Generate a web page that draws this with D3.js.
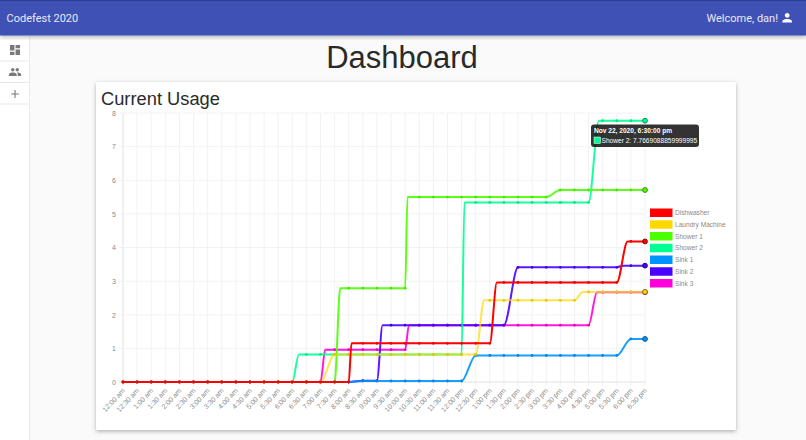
<!DOCTYPE html>
<html>
<head>
<meta charset="utf-8">
<title>Codefest 2020</title>
<script src="https://cdn.jsdelivr.net/npm/d3@7/dist/d3.min.js"></script>
<style>
  html, body { margin: 0; padding: 0; background: #fafafa; overflow: hidden; }
  svg { display: block; font-family: "Liberation Sans", Arial, sans-serif; }
  .axis text { font-size: 7px; fill: #8a8a8a; font-family: "Liberation Sans", Arial, sans-serif; }
  .axis path, .axis line { display: none; }
</style>
</head>
<body>
<svg id="page" width="806" height="440"></svg>
<script>
// one label every half hour
var timeLabels = ["12:00 am","12:30 am","1:00 am","1:30 am","2:00 am","2:30 am","3:00 am","3:30 am","4:00 am","4:30 am","5:00 am","5:30 am","6:00 am","6:30 am","7:00 am","7:30 am","8:00 am","8:30 am","9:00 am","9:30 am","10:00 am","10:30 am","11:00 am","11:30 am","12:00 pm","12:30 pm","1:00 pm","1:30 pm","2:00 pm","2:30 pm","3:00 pm","3:30 pm","4:00 pm","4:30 pm","5:00 pm","5:30 pm","6:00 pm","6:30 pm"];
var yTicks = [0,1,2,3,4,5,6,7,8];

var names = ["Dishwasher","Laundry Machine","Shower 1","Shower 2","Sink 1","Sink 2","Sink 3"];
var colors = ["#ff0000","#ffd800","#4cff00","#00ff92","#0092ff","#4900ff","#ff00db"];

// reading at each half hour tick
var dishwasher = [0,0,0,0,0,0,0,0,0,0,0,0,0,0,0,0,0,1.15,1.15,1.15,1.15,1.15,1.15,1.15,1.15,1.15,1.15,2.96,2.96,2.96,2.96,2.96,2.96,2.96,2.96,2.96,4.18,4.18];
var laundry = [0,0,0,0,0,0,0,0,0,0,0,0,0,0,0,0.82,0.82,0.82,0.82,0.82,0.82,0.82,0.82,0.82,0.82,0.82,2.43,2.43,2.43,2.43,2.43,2.43,2.43,2.68,2.68,2.68,2.68,2.68];
var shower1 = [0,0,0,0,0,0,0,0,0,0,0,0,0,0,0,0,2.79,2.79,2.79,2.79,2.79,5.5,5.5,5.5,5.5,5.5,5.5,5.5,5.5,5.5,5.5,5.71,5.71,5.71,5.71,5.71,5.71,5.71];
var shower2 = [0,0,0,0,0,0,0,0,0,0,0,0,0,0.82,0.82,0.82,0.82,0.82,0.82,0.82,0.82,0.82,0.82,0.82,0.82,5.34,5.34,5.34,5.34,5.34,5.34,5.34,5.34,5.34,7.77,7.77,7.77,7.77];
var sink1 = [0,0,0,0,0,0,0,0,0,0,0,0,0,0,0,0,0,0.03,0.03,0.03,0.03,0.03,0.03,0.03,0.03,0.79,0.79,0.79,0.79,0.79,0.79,0.79,0.79,0.79,0.79,0.79,1.28,1.28];
var sink2 = [0,0,0,0,0,0,0,0,0,0,0,0,0,0,0,0,0,0.04,0.04,1.69,1.69,1.69,1.69,1.69,1.69,1.69,1.69,1.69,3.41,3.41,3.41,3.41,3.41,3.41,3.41,3.41,3.46,3.46];
var sink3 = [0,0,0,0,0,0,0,0,0,0,0,0,0,0,0,0.96,0.96,0.96,0.96,0.96,0.96,1.69,1.69,1.69,1.69,1.69,1.69,1.69,1.69,1.69,1.69,1.69,1.69,1.69,2.67,2.67,2.67,2.67];
var seriesValues = [dishwasher, laundry, shower1, shower2, sink1, sink2, sink3];

// readings that came in between ticks: [minutes, value]
var dishwasherExtra = [[480,0],[486,1.15],[780,1.15],[795,2.96],[1050,2.96],[1073,4.18]];
var laundryExtra = [[750,0.82],[768,2.43],[960,2.43],[978,2.68]];
var shower1Extra = [[450,0],[462,2.79],[600,2.79],[605,5.5],[900,5.5]];
var shower2Extra = [[360,0],[374,0.82],[720,0.82],[726,5.34],[990,5.34],[1012,7.77]];
var sink1Extra = [[720,0.03],[1050,0.79]];
var sink2Extra = [[540,0.04],[552,1.69],[810,1.69],[1050,3.41],[1062,3.46]];
var sink3Extra = [[420,0],[430,0.96],[600,0.96],[608,1.69],[990,1.69],[1008,2.67]];
var seriesExtras = [dishwasherExtra, laundryExtra, shower1Extra, shower2Extra, sink1Extra, sink2Extra, sink3Extra];

var tickMinutes = timeLabels.map(function(d, i) { return i * 30; });

var svg = d3.select("#page");

// shadows for the bar and the card
var defs = svg.append("defs");
var shadow = defs.append("filter").attr("id", "shadow").attr("x", "-5%").attr("y", "-5%").attr("width", "110%").attr("height", "115%");
shadow.append("feDropShadow").attr("dx", 0).attr("dy", 1.5).attr("stdDeviation", 2).attr("flood-color", "#000").attr("flood-opacity", 0.3);

// sidebar
svg.append("rect").attr("x", 0).attr("y", 36).attr("width", 29).attr("height", 404).attr("fill", "#fff");
svg.append("line").attr("x1", 29.5).attr("x2", 29.5).attr("y1", 36).attr("y2", 440).attr("stroke", "#ececec");
[61, 82.5, 104].forEach(function(y) {
  svg.append("line").attr("x1", 0).attr("x2", 29).attr("y1", y).attr("y2", y).attr("stroke", "#e8e8e8");
});
var sideIcons = [
  { y: 50, path: "M3 13h8V3H3v10zm0 8h8v-6H3v6zm10 0h8V11h-8v10zm0-18v6h8V3h-8z" },
  { y: 72, path: "M16 11c1.66 0 2.99-1.34 2.99-3S17.66 5 16 5c-1.66 0-3 1.34-3 3s1.34 3 3 3zm-8 0c1.66 0 2.99-1.34 2.99-3S9.66 5 8 5C6.34 5 5 6.34 5 8s1.34 3 3 3zm0 2c-2.33 0-7 1.17-7 3.5V19h14v-2.5c0-2.33-4.67-3.5-7-3.5zm8 0c-.29 0-.62.02-.97.05 1.16.84 1.97 1.97 1.97 3.45V19h6v-2.5c0-2.33-4.67-3.5-7-3.5z" },
  { y: 94, path: "M19 13h-6v6h-2v-6H5v-2h6V5h2v6h6v2z" }
];
sideIcons.forEach(function(icon) {
  svg.append("path").attr("d", icon.path).attr("fill", "#7a7a7a")
    .attr("transform", "translate(" + (15 - 6.7) + "," + (icon.y - 6.7) + ") scale(0.56)");
});

// app bar
svg.append("rect").attr("x", 0).attr("y", 0).attr("width", 806).attr("height", 35.5).attr("fill", "#3f51b5").attr("filter", "url(#shadow)");
svg.append("rect").attr("x", 0).attr("y", 0).attr("width", 806).attr("height", 1).attr("fill", "#2f3d90");
svg.append("text").attr("x", 6.5).attr("y", 21.5).attr("font-size", 11).attr("font-family", "Roboto").attr("fill", "#e8eaf6").text("Codefest 2020");
svg.append("text").attr("x", 778).attr("y", 21.5).attr("text-anchor", "end").attr("font-size", 11).attr("font-family", "Roboto").attr("fill", "#e8eaf6").text("Welcome, dan!");
svg.append("path").attr("d", "M12 12c2.21 0 4-1.79 4-4s-1.79-4-4-4-4 1.79-4 4 1.79 4 4 4zm0 2c-2.67 0-8 1.34-8 4v2h16v-2c0-2.66-5.33-4-8-4z")
  .attr("fill", "#fff").attr("transform", "translate(780,10.5) scale(0.6)");

svg.append("text").attr("x", 402).attr("y", 68).attr("text-anchor", "middle").attr("font-size", 31).attr("fill", "#2a2a2a").text("Dashboard");

// card
svg.append("rect").attr("x", 96).attr("y", 82).attr("width", 640).attr("height", 348).attr("rx", 2).attr("fill", "#fff").attr("filter", "url(#shadow)");
svg.append("text").attr("x", 101).attr("y", 104.5).attr("font-size", 18.3).attr("fill", "#2a2a2a").text("Current Usage");

// scales
var x = d3.scaleLinear().domain([0, 1110]).range([123, 645]);
var y = d3.scaleLinear().domain([0, 8]).range([382, 113]);

// grid
svg.append("g").selectAll("line").data(tickMinutes).enter().append("line")
  .attr("x1", function(d) { return x(d); }).attr("x2", function(d) { return x(d); })
  .attr("y1", y(8)).attr("y2", y(0) + 4)
  .attr("stroke", function(d) { return d === 0 ? "#dcdcdc" : "#f0f0f0"; }).attr("stroke-width", 0.9);
svg.append("g").selectAll("line").data(yTicks).enter().append("line")
  .attr("x1", x(0) - 4).attr("x2", x(1110))
  .attr("y1", function(d) { return y(d); }).attr("y2", function(d) { return y(d); })
  .attr("stroke", function(d) { return d === 0 ? "#dcdcdc" : "#f0f0f0"; }).attr("stroke-width", 0.9);

// axes
svg.append("g").attr("class", "axis")
  .attr("transform", "translate(" + (x(0) - 5) + ",0)")
  .call(d3.axisLeft(y).tickValues(yTicks).tickSize(0).tickPadding(2).tickFormat(d3.format("d")));
var xAxis = svg.append("g").attr("class", "axis")
  .attr("transform", "translate(0," + (y(0) + 6) + ")")
  .call(d3.axisBottom(x).tickValues(tickMinutes).tickSize(0).tickFormat(function(d, i) { return timeLabels[i]; }));
xAxis.selectAll("text")
  .attr("text-anchor", "end").attr("dy", "0.35em").attr("y", 0).attr("x", 0)
  .attr("transform", "rotate(-47) translate(-1,1)");

// lines, first series goes on top
var line = d3.line()
  .x(function(d) { return x(d[0]); })
  .y(function(d) { return y(d[1]); })
  .curve(d3.curveMonotoneX);

d3.range(names.length).reverse().forEach(function(s) {
  var ticks = seriesValues[s].map(function(v, i) { return [tickMinutes[i], v]; });
  var pts = ticks.concat(seriesExtras[s]).sort(function(a, b) { return a[0] - b[0]; });
  var g = svg.append("g");
  // the yellow lets the line below show through
  g.append("path").attr("d", line(pts)).attr("fill", "none").attr("stroke", colors[s]).attr("stroke-width", 2)
    .attr("stroke-opacity", s === 0 ? 1 : s === 1 ? 0.7 : 0.9);
  g.selectAll("circle").data(ticks.slice(0, -1)).enter().append("circle")
    .attr("cx", function(d) { return x(d[0]); }).attr("cy", function(d) { return y(d[1]); })
    .attr("r", 1.4).attr("fill", d3.color(colors[s]).darker(0.25));
  // hovered point at the right end
  var end = ticks[ticks.length - 1];
  g.append("circle").attr("cx", x(end[0])).attr("cy", y(end[1])).attr("r", 2.4)
    .attr("fill", colors[s]).attr("stroke", d3.color(colors[s]).darker(1.6)).attr("stroke-width", 1);
});

// legend
var legend = svg.append("g").selectAll("g").data(names).enter().append("g")
  .attr("transform", function(d, i) { return "translate(650," + (208.5 + i * 11.75) + ")"; });
legend.append("rect").attr("width", 22.5).attr("height", 8.5).attr("fill", function(d, i) { return colors[i]; });
legend.append("text").attr("x", 25).attr("y", 6.6).attr("font-size", 6.6).attr("fill", "#8a8a8a").text(function(d) { return d; });

// tooltip
var tip = svg.append("g").attr("transform", "translate(591,124.5)");
tip.append("rect").attr("width", 108).attr("height", 22.5).attr("rx", 3).attr("fill", "#000").attr("fill-opacity", 0.8);
tip.append("text").attr("x", 3).attr("y", 8.5).attr("font-size", 6.6).attr("font-weight", "bold").attr("fill", "#fff").text("Nov 22, 2020, 6:30:00 pm");
tip.append("rect").attr("x", 3).attr("y", 12.5).attr("width", 6.5).attr("height", 6.5).attr("fill", colors[3]).attr("stroke", "#fff").attr("stroke-width", 0.5);
tip.append("text").attr("x", 10.5).attr("y", 18).attr("font-size", 6.6).attr("fill", "#fff").text("Shower 2: 7.7669088859999995");
</script>
</body>
</html>
